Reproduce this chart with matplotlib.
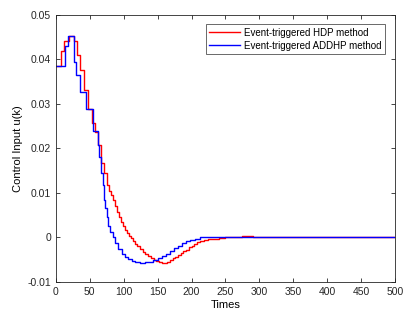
import numpy as np
import matplotlib
matplotlib.use('Agg')
import matplotlib.pyplot as plt
from matplotlib.ticker import FuncFormatter

# event instants and held control values
t_hdp = [0, 7, 12, 19, 26, 31, 35, 41, 47, 53, 58, 62, 66, 71, 75, 78, 81, 84,
         87, 90, 93, 96, 99, 102, 105, 108, 111, 114, 117, 120, 124, 128, 132,
         136, 140, 144, 148, 152, 156, 160, 164, 168, 172, 176, 180, 184, 188,
         192, 196, 200, 204, 208, 213, 219, 225, 232, 240, 250, 262, 275, 290,
         305, 320, 500]
u_hdp = [0.0384, 0.0419, 0.0440, 0.0451, 0.0440, 0.0410, 0.0376, 0.0330, 0.0288,
         0.0257, 0.0237, 0.0207, 0.0167, 0.0145, 0.0118, 0.0105, 0.0095, 0.0083,
         0.0070, 0.0057, 0.0045, 0.0035, 0.0026, 0.0017, 0.0010, 0.0004, -0.0002,
         -0.0008, -0.0014, -0.0020, -0.0026, -0.0032, -0.0037, -0.0042, -0.0046,
         -0.0050, -0.0053, -0.0055, -0.0057, -0.0057, -0.0055, -0.0051, -0.0047,
         -0.0043, -0.0039, -0.0035, -0.0031, -0.0027, -0.0022, -0.0018, -0.0014,
         -0.0011, -0.0008, -0.0006, -0.0004, -0.0003, -0.0001, 0.0001, 0.0002,
         0.0003, 0.0002, 0.0001, 0.0, 0.0]

t_addhp = [0, 13, 18, 26, 30, 36, 45, 55, 62, 64, 67, 69, 71, 73, 75, 77, 80, 84,
           87, 92, 97, 102, 107, 112, 117, 124, 131, 137, 143, 150, 156, 162,
           168, 174, 180, 186, 192, 198, 205, 212, 220, 240, 260, 285, 500]
u_addhp = [0.0384, 0.0429, 0.0451, 0.0393, 0.0364, 0.0327, 0.0288, 0.0239, 0.0207,
           0.0181, 0.0145, 0.0118, 0.0085, 0.0066, 0.0045, 0.0025, 0.0012, 0.0,
           -0.0012, -0.0025, -0.0036, -0.0043, -0.0048, -0.0053, -0.0056, -0.0057,
           -0.0056, -0.0054, -0.0051, -0.0046, -0.0041, -0.0036, -0.0031, -0.0024,
           -0.0018, -0.0012, -0.0008, -0.0005, -0.0003, 0.0, 0.0002, 0.0002,
           0.0001, 0.0, 0.0]


def main():
    plt.rcParams['font.family'] = ['Liberation Sans', 'DejaVu Sans']
    plt.rcParams['axes.unicode_minus'] = False

    fig = plt.figure(figsize=(4.11, 3.18), dpi=100)
    ax = fig.add_axes([0.136, 0.113, 0.825, 0.841])

    ax.plot(t_hdp, u_hdp, 'r', lw=1.0, drawstyle='steps-post',
            label='Event-triggered HDP method')
    ax.plot(t_addhp, u_addhp, 'b', lw=1.0, drawstyle='steps-post',
            label='Event-triggered ADDHP method')

    ax.set_xlim(0, 500)
    ax.set_ylim(-0.01, 0.05)
    ax.set_xticks(np.arange(0, 501, 50))
    ax.set_yticks(np.arange(-0.01, 0.051, 0.01))
    ax.yaxis.set_major_formatter(FuncFormatter(lambda v, p: '%g' % round(v, 3)))
    ax.tick_params(direction='in', top=True, right=True, labelsize=7.5,
                   length=3, width=0.6, colors='#262626')
    for s in ax.spines.values():
        s.set_linewidth(0.6)
        s.set_color('#262626')

    ax.set_xlabel('Times', fontsize=8, labelpad=2)
    ax.set_ylabel('Control Input u(k)', fontsize=8, labelpad=3)

    leg = ax.legend(loc='upper right', fontsize=7, fancybox=False,
                    borderaxespad=1.0, handlelength=3.2, handletextpad=0.4,
                    labelspacing=0.3, borderpad=0.35)
    leg.get_frame().set_edgecolor('#262626')
    leg.get_frame().set_linewidth(0.6)

    fig.savefig('out.png', dpi=100)


if __name__ == '__main__':
    main()
